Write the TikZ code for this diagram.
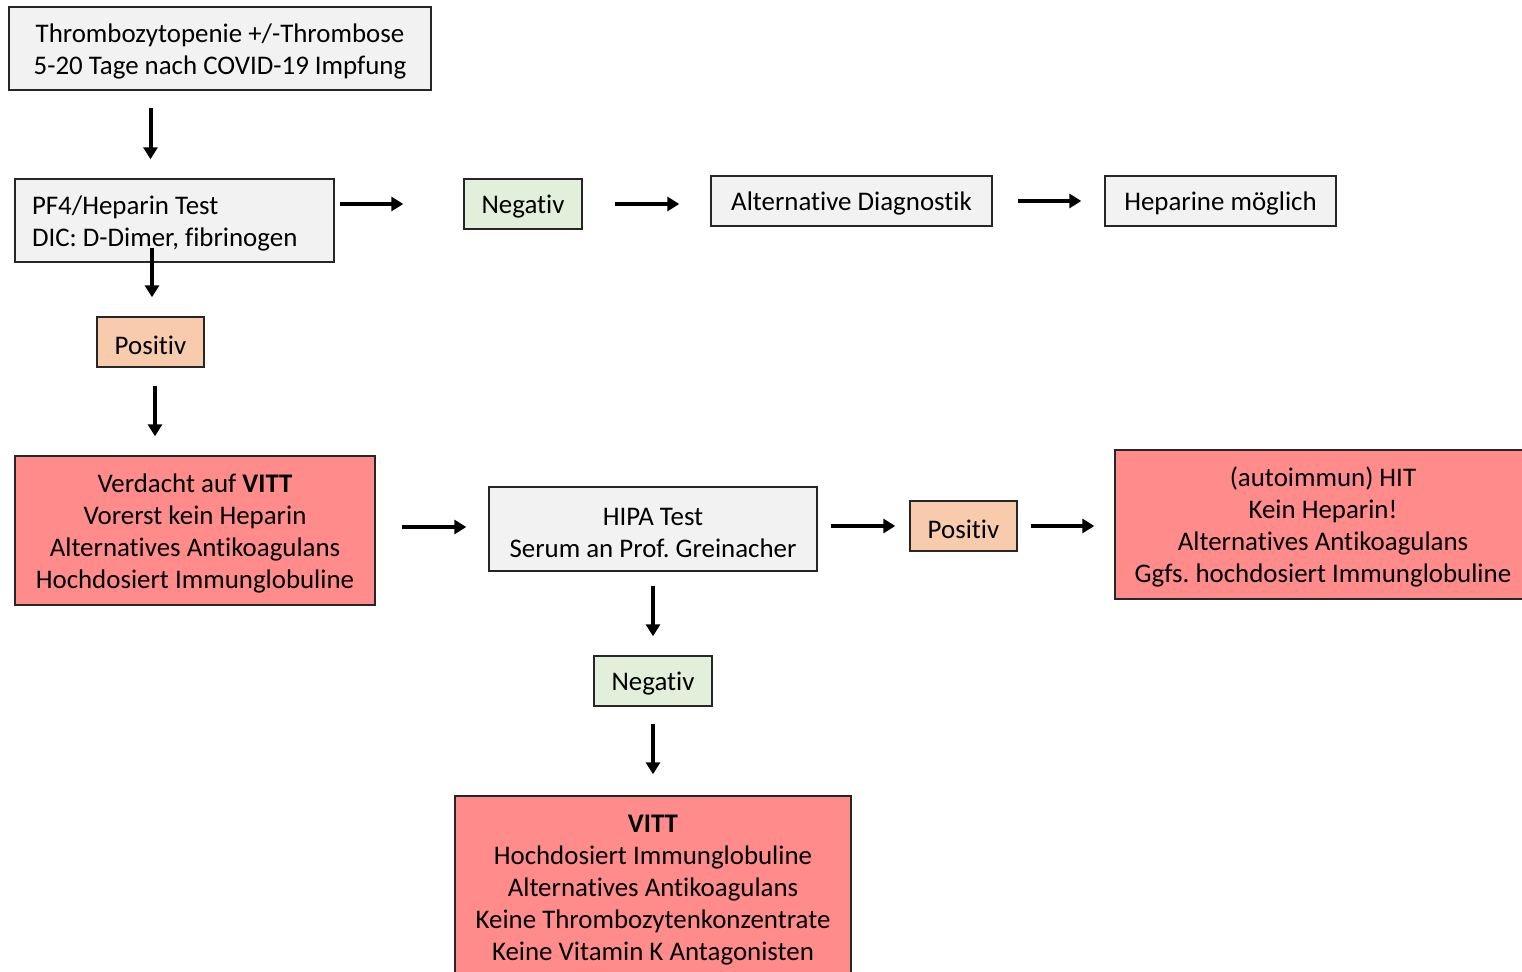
\documentclass[tikz,border=0pt]{standalone}
\usepackage{xcolor}
\usepackage{fontspec}
\setmainfont{Carlito}[Ligatures=NoCommon]
\frenchspacing
\usepackage{tikz}
\usetikzlibrary{calc, positioning, arrows.meta}

\definecolor{boxgray}{HTML}{F2F2F2}
\definecolor{boxgreen}{HTML}{E2EFDA}
\definecolor{boxorange}{HTML}{F8CBAD}
\definecolor{boxred}{HTML}{FF8B8B}
\newcommand{\vpad}{\rule{0pt}{14pt}}

\begin{document}
\begin{tikzpicture}[
  font=\fontsize{15.3}{18.1}\selectfont,
  box/.style={draw=black!85, line width=0.8pt, align=center, inner sep=0pt, minimum height=1cm,
    execute at begin node=\vpad},
  greybox/.style={box, fill=boxgray},
  negbox/.style={box, fill=boxgreen, minimum width=2.36cm},
  posbox/.style={box, fill=boxorange, minimum width=2.14cm},
  alarmbox/.style={box, fill=boxred},
  arr/.style={-{Triangle[length=2.4mm, width=2.8mm]}, line width=0.08cm}
]
  \useasboundingbox (0,0) rectangle (30.44,-19.44);

  \node[greybox, minimum width=8.44cm, minimum height=1.66cm] (onset) at (4.40,-0.97)
    {\vpad Thrombozytopenie +/-Thrombose\\5-20 Tage nach COVID-19 Impfung};
  \node[greybox, minimum height=1.66cm, text width=5.70cm, inner xsep=0.34cm, align=flush left] (pf4) at (3.49,-4.41)
    {\vpad PF4/Heparin Test\\DIC: D-Dimer, fibrinogen};
  \node[negbox] (neg1) at (10.46,-4.08) {Negativ};
  \node[greybox, minimum width=5.62cm] (altdiag) at (17.03,-4.02) {Alternative Diagnostik};
  \node[greybox, minimum width=4.62cm] (heparin) at (24.41,-4.02) {Heparine möglich};
  \node[posbox] (pos1) at (3.01,-6.84) {Positiv};

  \node[alarmbox, minimum width=7.2cm, minimum height=2.98cm] (suspect) at (3.90,-10.61)
    {\vpad Verdacht auf \textbf{VITT}\\Vorerst kein Heparin\\Alternatives Antikoagulans\\Hochdosiert Immunglobuline};
  \node[greybox, minimum width=6.56cm, minimum height=1.68cm] (hipa) at (13.06,-10.58)
    {\vpad HIPA Test\\Serum an Prof. Greinacher};
  \node[posbox] (pos2) at (19.27,-10.52) {Positiv};
  \node[alarmbox, minimum width=8.32cm, minimum height=2.98cm] (hit) at (26.46,-10.49)
    {\vpad (autoimmun) HIT\\Kein Heparin!\\Alternatives Antikoagulans\\Ggfs. hochdosiert Immunglobuline};
  \node[negbox] (neg2) at (13.06,-13.62) {Negativ};
  \node[alarmbox, minimum width=7.92cm, minimum height=3.62cm] (vitt) at (13.06,-17.73)
    {\vpad\textbf{VITT}\\Hochdosiert Immunglobuline\\Alternatives Antikoagulans\\Keine Thrombozytenkonzentrate\\Keine Vitamin K Antagonisten};

  % first test
  \draw[arr, shorten <=0.34cm, shorten >=0.38cm] (onset.south -| pos1) -- (pf4.north -| pos1);
  \draw[arr, shorten <=0.10cm, shorten >=1.20cm] (pf4.east |- neg1) -- (neg1.west);
  \draw[arr, shorten <=0.64cm, shorten >=0.62cm] (neg1.east) -- (altdiag.west |- neg1);
  \draw[arr, shorten <=0.50cm, shorten >=0.46cm] (altdiag.east |- 0,-4.02) -- (heparin.west);
  \draw[arr, shorten <=-0.30cm, shorten >=0.38cm] ([xshift=0.03cm]pf4.south -| pos1) -- ([xshift=0.03cm]pos1.north);
  \draw[arr, shorten <=0.36cm, shorten >=0.38cm] ([xshift=0.09cm]pos1.south) -- ([xshift=0.09cm]suspect.north -| pos1);

  % HIPA
  \draw[arr, shorten <=0.52cm, shorten >=0.44cm] (suspect.east |- 0,-10.54) -- (hipa.west |- 0,-10.54);
  \draw[arr, shorten <=0.26cm, shorten >=0.28cm] (hipa.east |- pos2) -- (pos2.west);
  \draw[arr, shorten <=0.26cm, shorten >=0.40cm] (pos2.east) -- (hit.west |- pos2);
  \draw[arr, shorten <=0.28cm, shorten >=0.38cm] (hipa.south) -- (neg2.north);
  \draw[arr, shorten <=0.34cm, shorten >=0.42cm] (neg2.south) -- (vitt.north);
\end{tikzpicture}
\end{document}
